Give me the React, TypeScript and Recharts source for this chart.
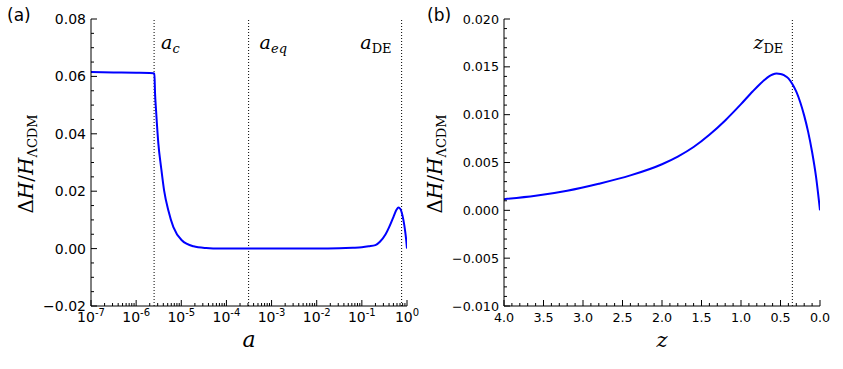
import React from 'react';
import { LineChart, Line, XAxis, YAxis, ReferenceLine } from 'recharts';

// ---------- Panel (a): ΔH/H vs scale factor a (log10 a given) ----------
const A_LOG = [
  -7, -6.5, -6, -5.7, -5.62, -5.596, -5.581, -5.559, -5.508, -5.448, -5.381, -5.286, -5.175,
  -4.989, -4.73, -4.45, -4.14, -3.5, -3, -2.5, -2, -1.5, -1.2, -1.0, -0.85, -0.7, -0.6, -0.477,
  -0.398, -0.301, -0.23, -0.19, -0.146, -0.114, -0.079, -0.041, -0.021, 0,
];
const A_DH = [
  0.0615, 0.0614, 0.0613, 0.0612, 0.0611, 0.061, 0.054, 0.0482, 0.0366, 0.0284, 0.0203, 0.0133,
  0.0075, 0.0029, 0.0008, 0.0002, 0.0, 0.0, 0.0, 0.0, 0.0, 0.0001, 0.0003, 0.0005, 0.0008,
  0.0012, 0.0024, 0.0049, 0.0074, 0.011, 0.0136, 0.0143, 0.0138, 0.0124, 0.0099, 0.0061, 0.0035, 0.0,
];
const A_MARKERS = [
  { value: 2.5e-6, base: 'a', sub: 'c', subItalic: true },
  { value: 3.1e-4, base: 'a', sub: 'eq', subItalic: true },
  { value: 0.76, base: 'a', sub: 'DE', subItalic: false },
];
const A_X_EXPS = ['-7', '-6', '-5', '-4', '-3', '-2', '-1', '0'];
const A_Y_MAJOR = [-0.02, 0.0, 0.02, 0.04, 0.06, 0.08];

// ---------- Panel (b): ΔH/H vs redshift z ----------
const Z_VALS = [
  4.0, 3.6, 3.2, 2.8, 2.4, 2.0, 1.8, 1.6, 1.4, 1.2, 1.0, 0.85, 0.7, 0.65, 0.6, 0.55, 0.5, 0.45,
  0.4, 0.35, 0.3, 0.25, 0.2, 0.15, 0.1, 0.05, 0.0,
];
const Z_DH = [
  0.00117, 0.00152, 0.00205, 0.00278, 0.00365, 0.00482, 0.00562, 0.00662, 0.0079, 0.0094, 0.0111,
  0.01245, 0.01365, 0.01398, 0.0142, 0.0143, 0.01426, 0.0141, 0.0138, 0.0132, 0.0124, 0.0113,
  0.0099, 0.0082, 0.0061, 0.0035, 0.0,
];
const Z_MARKER = { value: 0.35, base: 'z', sub: 'DE', subItalic: false };
const B_X_MAJOR = [4.0, 3.5, 3.0, 2.5, 2.0, 1.5, 1.0, 0.5, 0.0];
const B_Y_MAJOR = [-0.01, -0.005, 0.0, 0.005, 0.01, 0.015, 0.02];

// ---------- helpers ----------
const range = (lo: number, hi: number, step: number) => {
  const n = Math.round((hi - lo) / step);
  return Array.from({ length: n + 1 }, (_, i) => +(lo + i * step).toFixed(6));
};
const A_X_MAJOR = A_X_EXPS.map((e) => Math.pow(10, Number(e)));
const A_X_TICKS: number[] = [];
for (let n = -7; n <= 0; n++) {
  A_X_TICKS.push(Math.pow(10, n));
  if (n < 0) for (let k = 2; k <= 9; k++) A_X_TICKS.push(k * Math.pow(10, n));
}
const A_Y_TICKS = range(-0.02, 0.08, 0.005);
const B_X_TICKS = range(0, 4, 0.1);
const B_Y_TICKS = range(-0.01, 0.02, 0.001);

const dataA = A_LOG.map((l, i) => ({ a: Math.pow(10, l), v: A_DH[i] }));
const dataB = Z_VALS.map((z, i) => ({ z, v: Z_DH[i] }));

const isMajor = (v: number, majors: number[]) =>
  majors.some((m) => Math.abs(m - v) <= 1e-9 + 1e-6 * Math.abs(m));

const TICK_FONT = "'DejaVu Sans', sans-serif";
const MATH_FONT = "'DejaVu Serif', serif";
const minusify = (s: string) => s.replace('-', '\u2212');

type Side = 'left' | 'right' | 'top' | 'bottom';

const makeTick =
  (side: Side, majors: number[], fontSize: number, fmt?: (v: number) => React.ReactNode) =>
  (props: any) => {
    const { x, y, payload } = props;
    const v = payload.value as number;
    const major = isMajor(v, majors);
    const len = major ? 6 : 3;
    let ln: React.ReactNode = null;
    if (side === 'left') ln = <line x1={x} y1={y} x2={x + len} y2={y} stroke="#000" strokeWidth={1} />;
    if (side === 'right') ln = <line x1={x} y1={y} x2={x - len} y2={y} stroke="#000" strokeWidth={1} />;
    if (side === 'top') ln = <line x1={x} y1={y} x2={x} y2={y + len} stroke="#000" strokeWidth={1} />;
    if (side === 'bottom') ln = <line x1={x} y1={y} x2={x} y2={y - len} stroke="#000" strokeWidth={1} />;
    let lbl: React.ReactNode = null;
    if (major && fmt) {
      if (side === 'left') {
        lbl = (
          <text x={x - 5} y={y + fontSize * 0.36} textAnchor="end" fontSize={fontSize} fontFamily={TICK_FONT} fill="#000">
            {fmt(v)}
          </text>
        );
      } else if (side === 'bottom') {
        lbl = (
          <text x={x} y={y + 16} textAnchor="middle" fontSize={fontSize} fontFamily={TICK_FONT} fill="#000">
            {fmt(v)}
          </text>
        );
      }
    }
    return (
      <g>
        {ln}
        {lbl}
      </g>
    );
  };

const logLabel = (v: number) => {
  const e = Math.round(Math.log10(v));
  return (
    <>
      10<tspan dy={-6} fontSize={10}>{String(e)}</tspan>
    </>
  );
};

const markerLabel =
  (m: { base: string; sub: string; subItalic: boolean }, dx: number, anchor: 'start' | 'end') =>
  (props: any) => {
    const vb = props.viewBox || {};
    const x = (vb.x ?? 0) + dx;
    const y = (vb.y ?? 0) + 30;
    return (
      <text x={x} y={y} textAnchor={anchor} fontFamily={MATH_FONT} fill="#000">
        <tspan fontSize={19} fontStyle="italic">{m.base}</tspan>
        <tspan fontSize={13} dy={4} fontStyle={m.subItalic ? 'italic' : 'normal'}>{m.sub}</tspan>
      </text>
    );
  };

const A_MARKER_OFFSETS = [
  { dx: 7, anchor: 'start' as const },
  { dx: 11, anchor: 'start' as const },
  { dx: -10, anchor: 'end' as const },
];

const W = 843;
const H = 369;

export default function App() {
  return (
    <div style={{ position: 'absolute', left: 0, top: 0, width: W, height: H, background: '#fff' }}>
      {/* Panel (a) */}
      <div style={{ position: 'absolute', left: 0, top: 0 }}>
        <LineChart width={420} height={369} margin={{ top: 19, right: 13, bottom: 23, left: 31 }}>
          <XAxis
            xAxisId="b"
            dataKey="a"
            type="number"
            scale="log"
            domain={[1e-7, 1]}
            allowDataOverflow
            ticks={A_X_TICKS}
            interval={0}
            height={40}
            tickSize={0}
            tickMargin={0}
            axisLine={{ stroke: '#000', strokeWidth: 1 }}
            tickLine={false}
            tick={makeTick('bottom', A_X_MAJOR, 14, logLabel)}
          />
          <XAxis
            xAxisId="t"
            orientation="top"
            type="number"
            scale="log"
            domain={[1e-7, 1]}
            allowDataOverflow
            ticks={A_X_TICKS}
            interval={0}
            height={0}
            tickSize={0}
            tickMargin={0}
            axisLine={{ stroke: '#000', strokeWidth: 1 }}
            tickLine={false}
            tick={makeTick('top', A_X_MAJOR, 14)}
          />
          <YAxis
            yAxisId="l"
            type="number"
            domain={[-0.02, 0.08]}
            allowDataOverflow
            ticks={A_Y_TICKS}
            interval={0}
            width={60}
            tickSize={0}
            tickMargin={0}
            axisLine={{ stroke: '#000', strokeWidth: 1 }}
            tickLine={false}
            tick={makeTick('left', A_Y_MAJOR, 14, (v) => minusify(v.toFixed(2)))}
          />
          <YAxis
            yAxisId="r"
            orientation="right"
            type="number"
            domain={[-0.02, 0.08]}
            allowDataOverflow
            ticks={A_Y_TICKS}
            interval={0}
            width={0}
            tickSize={0}
            tickMargin={0}
            axisLine={{ stroke: '#000', strokeWidth: 1 }}
            tickLine={false}
            tick={makeTick('right', A_Y_MAJOR, 14)}
          />
          {A_MARKERS.map((m, i) => (
            <ReferenceLine
              key={m.sub}
              x={m.value}
              xAxisId="b"
              yAxisId="l"
              stroke="#000"
              strokeWidth={1}
              strokeDasharray="1 2"
              label={markerLabel(m, A_MARKER_OFFSETS[i].dx, A_MARKER_OFFSETS[i].anchor)}
            />
          ))}
          <Line
            xAxisId="b"
            yAxisId="l"
            data={dataA}
            dataKey="v"
            type="monotone"
            stroke="#0000ff"
            strokeWidth={2}
            dot={false}
            isAnimationActive={false}
          />
        </LineChart>
      </div>

      {/* Panel (b) */}
      <div style={{ position: 'absolute', left: 420, top: 0 }}>
        <LineChart width={423} height={369} margin={{ top: 19, right: 23, bottom: 23, left: 24 }}>
          <XAxis
            xAxisId="b"
            dataKey="z"
            type="number"
            domain={[0, 4]}
            reversed
            allowDataOverflow
            ticks={B_X_TICKS}
            interval={0}
            height={40}
            tickSize={0}
            tickMargin={0}
            axisLine={{ stroke: '#000', strokeWidth: 1 }}
            tickLine={false}
            tick={makeTick('bottom', B_X_MAJOR, 12.7, (v) => v.toFixed(1))}
          />
          <XAxis
            xAxisId="t"
            orientation="top"
            type="number"
            domain={[0, 4]}
            reversed
            allowDataOverflow
            ticks={B_X_TICKS}
            interval={0}
            height={0}
            tickSize={0}
            tickMargin={0}
            axisLine={{ stroke: '#000', strokeWidth: 1 }}
            tickLine={false}
            tick={makeTick('top', B_X_MAJOR, 12.7)}
          />
          <YAxis
            yAxisId="l"
            type="number"
            domain={[-0.01, 0.02]}
            allowDataOverflow
            ticks={B_Y_TICKS}
            interval={0}
            width={60}
            tickSize={0}
            tickMargin={0}
            axisLine={{ stroke: '#000', strokeWidth: 1 }}
            tickLine={false}
            tick={makeTick('left', B_Y_MAJOR, 12.7, (v) => minusify(v.toFixed(3)))}
          />
          <YAxis
            yAxisId="r"
            orientation="right"
            type="number"
            domain={[-0.01, 0.02]}
            allowDataOverflow
            ticks={B_Y_TICKS}
            interval={0}
            width={0}
            tickSize={0}
            tickMargin={0}
            axisLine={{ stroke: '#000', strokeWidth: 1 }}
            tickLine={false}
            tick={makeTick('right', B_Y_MAJOR, 12.7)}
          />
          <ReferenceLine
            x={Z_MARKER.value}
            xAxisId="b"
            yAxisId="l"
            stroke="#000"
            strokeWidth={1}
            strokeDasharray="1 2"
            label={markerLabel(Z_MARKER, -9, 'end')}
          />
          <Line
            xAxisId="b"
            yAxisId="l"
            data={dataB}
            dataKey="v"
            type="monotone"
            stroke="#0000ff"
            strokeWidth={2}
            dot={false}
            isAnimationActive={false}
          />
        </LineChart>
      </div>

      {/* Titles and axis labels */}
      <svg width={W} height={H} style={{ position: 'absolute', left: 0, top: 0, pointerEvents: 'none' }}>
        <text x={7} y={21} fontSize={17} fontFamily={TICK_FONT} fill="#000">(a)</text>
        <text x={427} y={21} fontSize={17} fontFamily={TICK_FONT} fill="#000">(b)</text>
        <text x={249} y={347} textAnchor="middle" fontSize={22} fontStyle="italic" fontFamily={MATH_FONT} fill="#000">a</text>
        <text x={662} y={347} textAnchor="middle" fontSize={21} fontStyle="italic" fontFamily={MATH_FONT} fill="#000">z</text>
        {[{ x: 33, y: 164 }, { x: 442, y: 164 }].map((p, i) => (
          <text
            key={i}
            x={p.x}
            y={p.y}
            textAnchor="middle"
            transform={`rotate(-90 ${p.x} ${p.y})`}
            fontFamily={MATH_FONT}
            fill="#000"
          >
            <tspan fontSize={20}>Δ</tspan>
            <tspan fontSize={20} fontStyle="italic">H</tspan>
            <tspan fontSize={20}>/</tspan>
            <tspan fontSize={20} fontStyle="italic">H</tspan>
            <tspan fontSize={13} dy={4}>ΛCDM</tspan>
          </text>
        ))}
      </svg>
    </div>
  );
}
